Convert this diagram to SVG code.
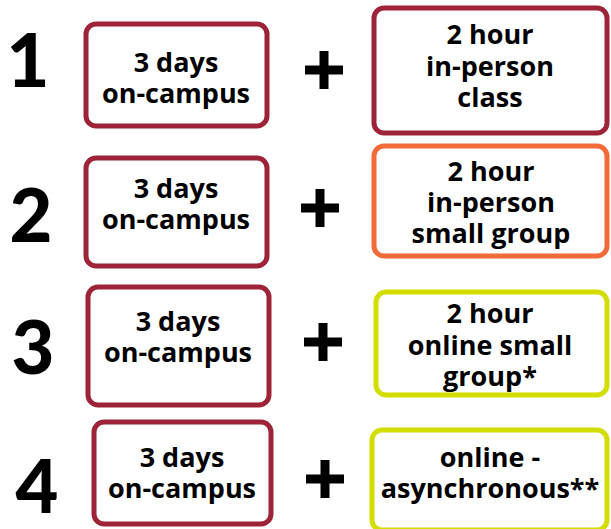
<svg xmlns="http://www.w3.org/2000/svg" width="611" height="529" viewBox="0 0 611 529">
<style>
.box{fill:#fff;stroke-width:5}
.red{stroke:#9E2338}
.orange{stroke:#F26B38}
.lime{stroke:#D3DE00}
.num{font-family:Lato,"Liberation Sans",sans-serif;font-weight:900;font-size:74px;fill:#000;text-anchor:middle}
.t{font-family:"Open Sans","Liberation Sans",sans-serif;font-weight:700;font-size:27px;fill:#000;text-anchor:middle}
.plus{fill:#000}
</style>
<rect width="611" height="529" fill="#fff"/>
<g id="row1">
<text class="num" x="28" y="87">1</text>
<g id="r1-left"><rect class="box red" x="86" y="24" width="181" height="102" rx="10"/>
<text class="t" x="176" y="72">3 days</text><text class="t" x="176" y="103">on-campus</text></g>
<path class="plus" d="M319.5 51h9v14.5h14.5v9h-14.5v14.5h-9v-14.5h-14.5v-9h14.5z"/>
<g id="r1-right"><rect class="box red" x="374" y="8" width="233" height="125" rx="10"/>
<text class="t" x="490" y="44">2 hour</text><text class="t" x="490" y="76">in-person</text><text class="t" x="490" y="107">class</text></g>
</g>
<g id="row2">
<text class="num" x="31" y="242">2</text>
<g id="r2-left"><rect class="box red" x="86" y="158" width="181" height="108" rx="10"/>
<text class="t" x="176" y="198">3 days</text><text class="t" x="176" y="229">on-campus</text></g>
<path class="plus" d="M315.5 189h9v14.5h14.5v9h-14.5v14.5h-9v-14.5h-14.5v-9h14.5z"/>
<g id="r2-right"><rect class="box orange" x="374" y="146" width="233" height="110" rx="10"/>
<text class="t" x="491" y="181">2 hour</text><text class="t" x="491" y="212">in-person</text><text class="t" x="491" y="243">small group</text></g>
</g>
<g id="row3">
<text class="num" x="33" y="374">3</text>
<g id="r3-left"><rect class="box red" x="88" y="287" width="181" height="118" rx="10"/>
<text class="t" x="178" y="331">3 days</text><text class="t" x="178" y="362">on-campus</text></g>
<path class="plus" d="M318.5 323h9v14.5h14.5v9h-14.5v14.5h-9v-14.5h-14.5v-9h14.5z"/>
<g id="r3-right"><rect class="box lime" x="376" y="292" width="231" height="103" rx="10"/>
<text class="t" x="490" y="323">2 hour</text><text class="t" x="490" y="355">online small</text><text class="t" x="490" y="386">group*</text></g>
</g>
<g id="row4">
<text class="num" x="37" y="513">4</text>
<g id="r4-left"><rect class="box red" x="94" y="422" width="177" height="102" rx="10"/>
<text class="t" x="182" y="467">3 days</text><text class="t" x="182" y="498">on-campus</text></g>
<path class="plus" d="M320.5 460h9v14.5h14.5v9h-14.5v14.5h-9v-14.5h-14.5v-9h14.5z"/>
<g id="r4-right"><rect class="box lime" x="372" y="430" width="235" height="100" rx="10"/>
<text class="t" x="490" y="467">online -</text><text class="t" x="490" y="498">asynchronous**</text></g>
</g>
</svg>
